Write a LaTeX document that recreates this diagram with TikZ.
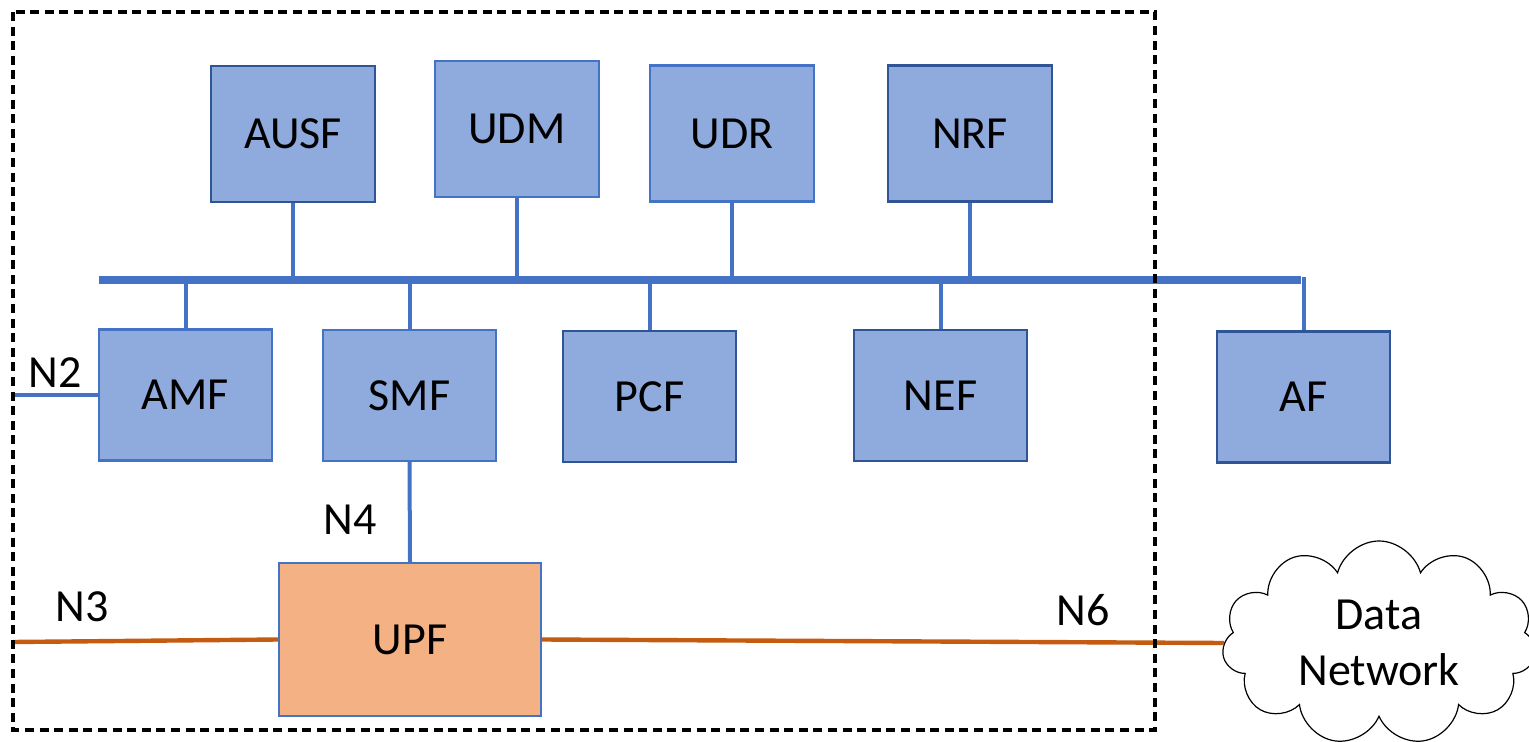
\documentclass[tikz,border=0pt]{standalone}
\usepackage{fontspec}
\setmainfont{Carlito}
\usetikzlibrary{shapes.symbols}
\definecolor{nffill}{HTML}{8FAADC}
\definecolor{nfdark}{HTML}{2F5597}
\definecolor{nfline}{HTML}{4472C4}
\definecolor{upffill}{HTML}{F4B183}
\definecolor{userline}{HTML}{C55A11}
\begin{document}
\begin{tikzpicture}[x=0.5pt,y=-0.5pt,
  txt/.style={font=\fontsize{23}{29}\selectfont},
  nf/.style={txt, draw=nfdark, fill=nffill, line width=1.2pt, inner sep=0pt,
             minimum width=82pt, minimum height=68pt},
  nflight/.style={nf, draw=nfline},
  nflow/.style={nf, minimum width=86.5pt, minimum height=65.5pt},
  nflowlight/.style={nflow, draw=nfline},
  link/.style={draw=nfline, line width=2pt},
  bus/.style={draw=nfline, line width=4pt},
  upath/.style={draw=userline, line width=2.2pt},
  lbl/.style={txt, inner sep=0pt},
  border/.style={draw=black, line width=1.6pt, dash pattern=on 4.5pt off 2.8pt},
]
\useasboundingbox (0,0) rectangle (1529,742);
\clip (0,0) rectangle (1529,742);

% service-based bus
\coordinate (busL) at (99,280);
\coordinate (busR) at (1301,280);
\draw[bus] (busL) -- (busR);

% upper network functions
\node[nf]      (AUSF) at (293,134)   {AUSF};
\node[nflight] (UDM)  at (517,129)   {UDM};
\node[nflight] (UDR)  at (732,133.5) {UDR};
\node[nf]      (NRF)  at (970,133.5) {NRF};

% lower network functions
\node[nflowlight] (AMF) at (185.5,395)   {AMF};
\node[nflowlight] (SMF) at (409.5,395.5) {SMF};
\node[nflow]      (PCF) at (649.5,396.5) {PCF};
\node[nflow]      (NEF) at (940.5,395.5) {NEF};
\node[nflow]      (AF)  at (1303.5,397)  {AF};

% user plane function
\node[txt, draw=nfline, fill=upffill, line width=1.2pt, inner sep=0pt,
      minimum width=131pt, minimum height=76.5pt] (UPF) at (410,639.5) {UPF};

% data network
\node[cloud, cloud puffs=11, cloud ignores aspect, draw=black, line width=0.6pt,
      minimum width=157pt, minimum height=102pt, align=center, txt, inner sep=0pt]
      (DN) at (1379,643) {Data\\[-1pt]Network};

% bus attachments
\foreach \nfn in {AUSF,UDM,UDR,NRF}
  \draw[link] (\nfn.south) -- (\nfn.south |- busL);
\foreach \nfn in {AMF,SMF,PCF,NEF}
  \draw[link] (\nfn.north |- busL) -- (\nfn.north);
\draw[link] ([yshift=1.5pt]busR -| AF.north) -- (AF.north);

% reference points
\coordinate (n2end) at (13,395);
\coordinate (n3end) at (13,642);
\draw[link] (n2end) -- (AMF.west);
\draw[link] (SMF.south) -- (UPF.north);
\draw[upath] (n3end) -- (UPF.west);
\draw[upath] (UPF.east) -- (DN.west);

\node[lbl] (N2) at (55,373) {N2};
\node[lbl] (N4) at (350,520) {N4};
\node[lbl] (N3) at (82,607) {N3};
\node[lbl] (N6) at (1083,610) {N6};

% core network boundary
\draw[border] (13,12) rectangle (1155,730);
\end{tikzpicture}
\end{document}
